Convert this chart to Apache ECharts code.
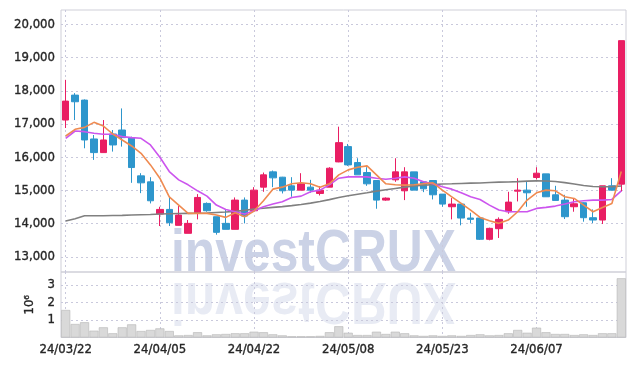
<!DOCTYPE html>
<html><head><meta charset="utf-8">
<script src="https://cdn.jsdelivr.net/npm/echarts@6/dist/echarts.min.js"></script>
<style>html,body{margin:0;padding:0;background:#fff}#c{width:634px;height:366px}</style>
</head><body><div id="c"></div>
<script>
const dates = ['24/03/22','24/03/25','24/03/26','24/03/27','24/03/28','24/03/29','24/04/01','24/04/02','24/04/03','24/04/04','24/04/05','24/04/08','24/04/09','24/04/11','24/04/12','24/04/15','24/04/16','24/04/17','24/04/18','24/04/19','24/04/22','24/04/23','24/04/24','24/04/25','24/04/26','24/04/29','24/04/30','24/05/02','24/05/03','24/05/07','24/05/08','24/05/09','24/05/10','24/05/13','24/05/14','24/05/16','24/05/17','24/05/20','24/05/21','24/05/22','24/05/23','24/05/24','24/05/27','24/05/28','24/05/29','24/05/30','24/05/31','24/06/03','24/06/04','24/06/05','24/06/07','24/06/10','24/06/11','24/06/12','24/06/13','24/06/14','24/06/17','24/06/18','24/06/19','24/06/20'];
const openP  = [17120,17870,17720,16550,16140,16700,16820,16590,15440,15260,14290,14430,13950,13710,14330,14610,14210,14010,13830,14710,14390,15100,15560,15400,15140,15010,15100,14910,15100,15860,16320,15840,15540,15300,14710,15320,14990,15560,15260,15300,14890,14510,14590,14170,14170,13530,13850,14360,14980,15010,15390,15500,14870,14710,14510,14630,14180,14110,15140,15190];
const closeP = [17690,17670,16520,16140,16520,16370,16590,15690,15230,14690,14430,14030,14260,14010,14790,14390,13740,13830,14710,14230,15010,15470,15380,14990,15010,15200,15010,15010,15670,16440,15770,15470,15200,14710,14770,15560,15560,15010,15050,14870,14590,14590,14170,14130,13530,13860,14130,14650,15010,14930,15520,14810,14700,14210,14600,14180,14110,15140,15010,19510];
const lowP   = [16880,17120,16270,15920,16140,16170,16320,15230,14920,14610,13930,13930,13950,13710,14130,14360,13670,13830,13830,14010,14390,14960,15100,14910,14810,15010,14930,14850,15100,15850,15740,15470,15140,14450,14690,15260,14710,15010,14950,14730,14510,14130,13950,14010,13510,13500,13570,14300,14670,14510,15330,14810,14700,14140,14360,14060,14020,13990,15010,14970];
const highP  = [18330,17930,17740,16670,17120,16820,17470,16620,15520,15400,14510,14810,14530,14110,14890,14640,14210,14420,14790,14790,15100,15540,15600,15410,15400,15520,15320,15130,15700,16920,16400,15970,15700,15300,14790,15970,15700,15560,15270,15300,14890,14770,14590,14330,14170,13880,14190,14960,15370,15270,15700,15500,15140,14870,14770,14640,14430,15140,15370,19510];
const volume = [1.57,0.77,0.87,0.39,0.58,0.24,0.58,0.75,0.37,0.43,0.52,0.37,0.12,0.14,0.30,0.12,0.18,0.20,0.24,0.24,0.33,0.30,0.18,0.12,0.07,0.07,0.07,0.09,0.30,0.64,0.27,0.14,0.14,0.33,0.20,0.33,0.24,0.12,0.09,0.12,0.09,0.12,0.09,0.14,0.18,0.12,0.14,0.24,0.43,0.27,0.56,0.30,0.20,0.20,0.14,0.18,0.14,0.24,0.24,3.38];
const ma5   = [16640,16840,16900,17050,16940,16700,16520,16340,16120,15770,15370,14810,14560,14310,14310,14310,14260,14190,14330,14210,14380,14690,15040,15100,15200,15230,15200,15100,15200,15470,15620,15700,15740,15470,15200,15170,15160,15170,15200,15230,15010,14810,14610,14410,14190,14090,14010,14110,14360,14710,14930,15010,14990,14810,14760,14560,14360,14490,14610,15570];
const ma10  = [16570,16790,16770,16720,16690,16690,16620,16590,16570,16370,16000,15570,15320,15170,14990,14830,14560,14430,14360,14290,14390,14510,14590,14660,14790,14830,14960,15010,15170,15370,15410,15410,15410,15370,15340,15370,15410,15370,15260,15200,15110,15040,14930,14810,14730,14560,14410,14360,14360,14360,14460,14490,14530,14590,14660,14690,14710,14710,14730,14990];
const maLong = [14080,14150,14240,14240,14240,14245,14250,14260,14270,14275,14290,14300,14305,14310,14315,14320,14335,14350,14370,14400,14440,14465,14490,14515,14545,14580,14620,14670,14725,14790,14840,14885,14930,14980,15020,15060,15100,15135,15155,15175,15195,15200,15210,15220,15225,15240,15250,15255,15265,15280,15290,15285,15270,15235,15195,15150,15120,15110,15115,15135];
const priceTicks = [13000,14000,15000,16000,17000,18000,19000,20000];
const volTicks = [1,2,3];

const FONT = '"DejaVu Sans Condensed","DejaVu Sans",sans-serif';
const UP = '#e91e63', DOWN = '#2e96cc';
const labelStyle = {color:'#262626', fontSize:13, fontFamily:FONT, textBorderColor:'#262626', textBorderWidth:0.35};
const gridLine = {show:true, lineStyle:{color:'#c9c9dc', type:[2,3], width:1}};
const chart = echarts.init(document.getElementById('c'), null, {renderer:'canvas'});
chart.setOption({
  animation:false,
  backgroundColor:'#fff',
  graphic:[
    {type:'text', left:171, top:224, z:0, silent:true, scaleX:0.83,
     style:{text:'investCRUX', font:'bold 60px "Liberation Sans", sans-serif', fill:'#cbd2e6'}},
    {type:'text', x:171, y:330, z:0, silent:true, scaleX:0.83, scaleY:-1,
     style:{text:'investCRUX', font:'bold 60px "Liberation Sans", sans-serif', fill:'rgba(203,210,230,0.45)'}}
  ],
  grid:[
    {left:61, right:8, top:10, height:262, show:true, borderColor:'#cfcfd8', borderWidth:1, backgroundColor:'transparent'},
    {left:61, right:8, top:272, height:65.5, show:true, borderColor:'#cfcfd8', borderWidth:1, backgroundColor:'transparent'}
  ],
  xAxis:[
    {type:'category', data:dates, gridIndex:0, boundaryGap:true,
     axisLine:{show:false}, axisTick:{show:false, interval:9, alignWithLabel:true}, axisLabel:{show:false, interval:9},
     splitLine:Object.assign({interval:9, alignWithLabel:true}, gridLine)},
    {type:'category', data:dates, gridIndex:1, boundaryGap:true,
     axisLine:{show:false}, axisTick:{show:false, interval:9, alignWithLabel:true},
     axisLabel:Object.assign({interval:9, margin:6}, labelStyle),
     splitLine:Object.assign({interval:9, alignWithLabel:true}, gridLine)}
  ],
  yAxis:[
    {type:'value', gridIndex:0, min:12546, max:20432, scale:true,
     axisLine:{show:false}, axisTick:{show:false, customValues:priceTicks},
     axisLabel:Object.assign({customValues:priceTicks, margin:6, formatter:v=>v.toLocaleString('en-US')}, labelStyle),
     splitLine:gridLine},
    {type:'value', gridIndex:1, min:0, max:3.74,
     name:'10⁶', nameLocation:'middle', nameRotate:90, nameGap:24,
     nameTextStyle:Object.assign({}, labelStyle),
     axisLine:{show:false}, axisTick:{show:false, customValues:volTicks},
     axisLabel:Object.assign({customValues:volTicks, margin:6}, labelStyle),
     splitLine:gridLine}
  ],
  series:[
    {type:'candlestick', xAxisIndex:0, yAxisIndex:0, barWidth:'74%', z:3,
     data:dates.map((d,i)=>[openP[i],closeP[i],lowP[i],highP[i]]),
     itemStyle:{color:UP, color0:DOWN, borderColor:UP, borderColor0:DOWN, borderWidth:1}},
    {type:'line', xAxisIndex:0, yAxisIndex:0, data:maLong, symbol:'none', z:4,
     lineStyle:{color:'#808080', width:1.6}},
    {type:'line', xAxisIndex:0, yAxisIndex:0, data:ma10, symbol:'none', z:4,
     lineStyle:{color:'#cc55ee', width:1.6}},
    {type:'line', xAxisIndex:0, yAxisIndex:0, data:ma5, symbol:'none', z:4,
     lineStyle:{color:'#ef8a50', width:1.6}},
    {type:'bar', xAxisIndex:1, yAxisIndex:1, data:volume, barCategoryGap:'4%', z:3,
     itemStyle:{color:'#d9d9d9', borderColor:'#b5b5b5', borderWidth:0.6}}
  ]
});
</script></body></html>
